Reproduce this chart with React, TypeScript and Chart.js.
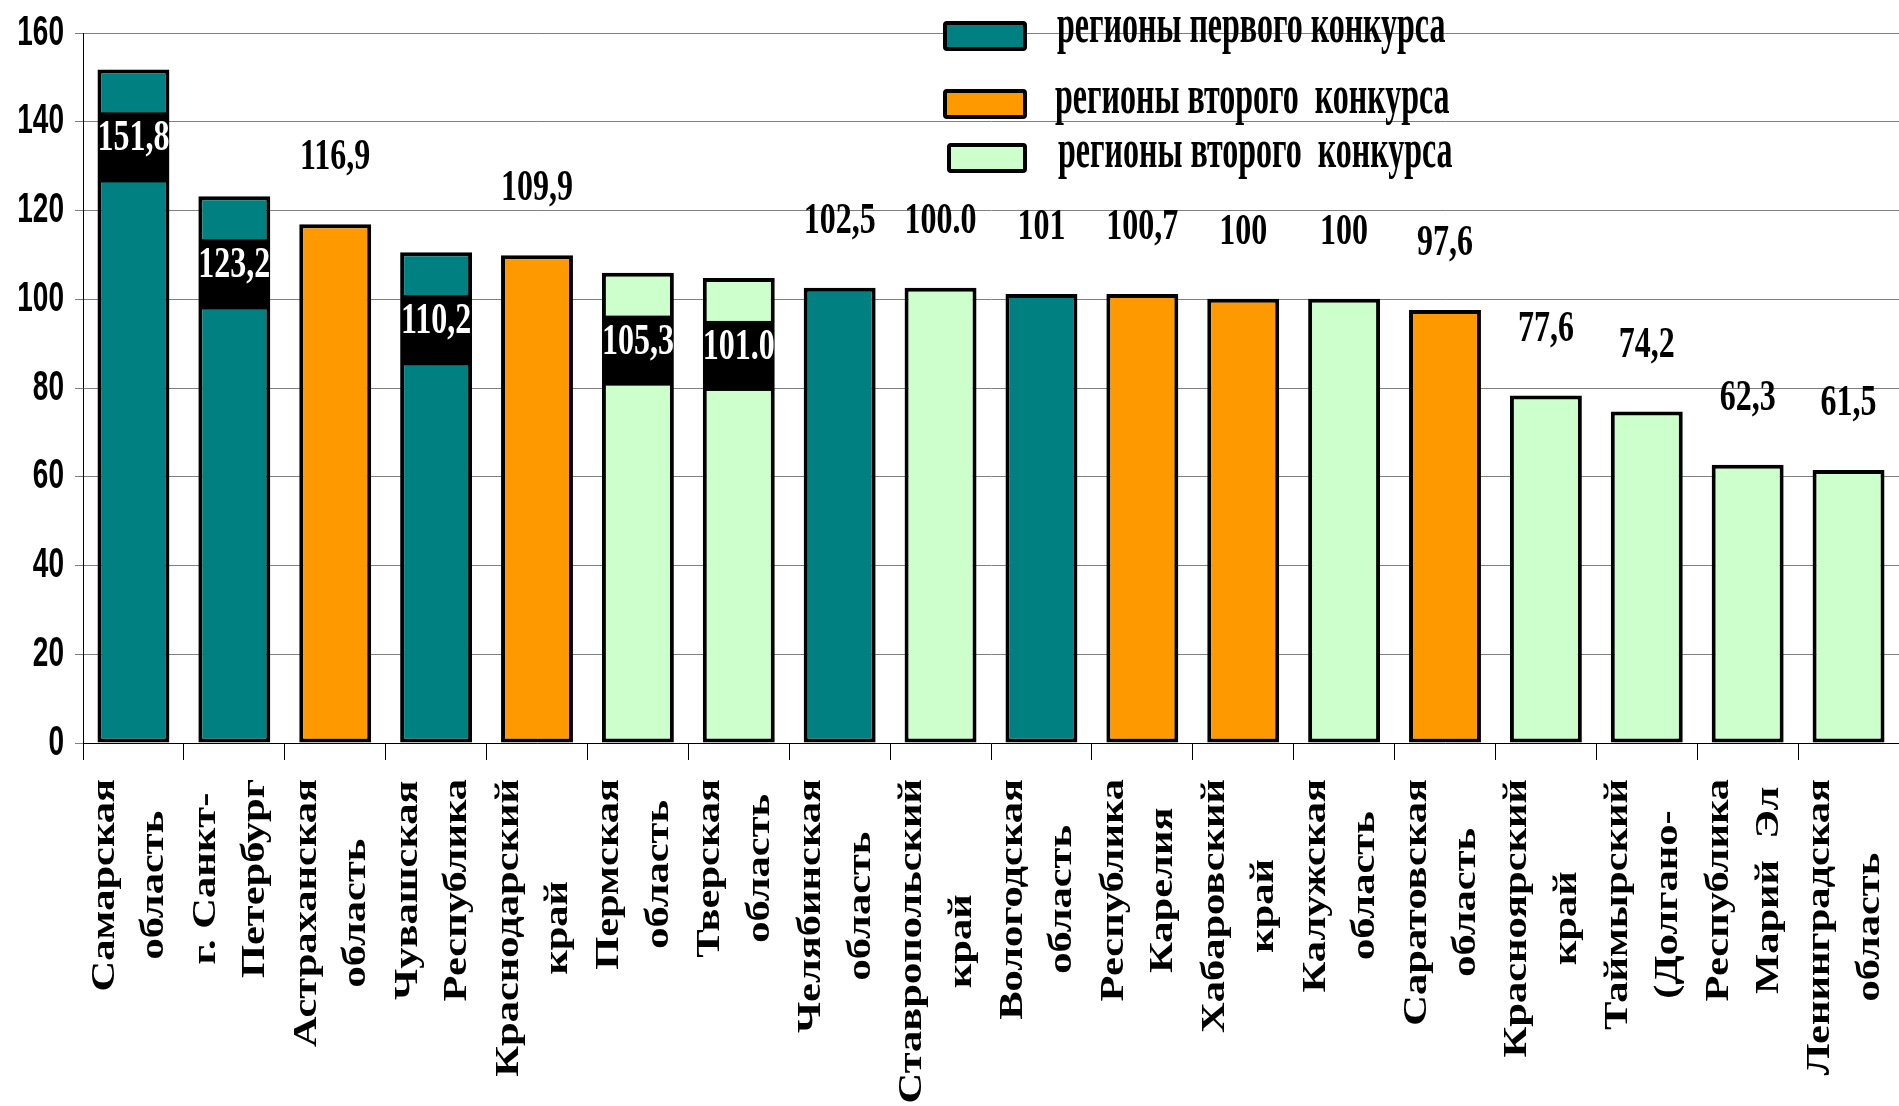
import React, { useEffect, useRef } from "react";
import { Chart, registerables } from "chart.js";

Chart.register(...registerables);

// ---- data ----
const regionLabels: string[][] = [
  ["Самарская", "область"],
  ["г. Санкт-", "Петербург"],
  ["Астраханская", "область"],
  ["Чувашская", "Республика"],
  ["Краснодарский", "край"],
  ["Пермская", "область"],
  ["Тверская", "область"],
  ["Челябинская", "область"],
  ["Ставропольский", "край"],
  ["Вологодская", "область"],
  ["Республика", "Карелия"],
  ["Хабаровский", "край"],
  ["Калужская", "область"],
  ["Саратовская", "область"],
  ["Красноярский", "край"],
  ["Таймырский", "(Долгано-"],
  ["Республика", "Марий  Эл"],
  ["Ленинградская", "область"],
];

const values: number[] = [
  151.8, 123.2, 116.9, 110.6, 109.9, 106.0, 104.8, 102.6, 102.6, 101.2, 101.2,
  100.1, 100.1, 97.6, 78.3, 74.7, 62.7, 61.5,
];

const valueLabels: string[] = [
  "151,8", "123,2", "116,9", "110,2", "109,9", "105,3", "101.0", "102,5", "100.0",
  "101", "100,7", "100", "100", "97,6", "77,6", "74,2", "62,3", "61,5",
];

const boxedLabel: boolean[] = [
  true, true, false, true, false, true, true, false, false, false, false, false,
  false, false, false, false, false, false,
];

const groupOfRegion: number[] = [0, 0, 1, 0, 1, 2, 2, 0, 2, 0, 1, 1, 2, 1, 2, 2, 2, 2];
const groupColors: string[] = ["#008080", "#FF9900", "#CCFFCC"];
const legendNames: string[] = [
  "регионы первого конкурса",
  "регионы второго  конкурса",
  "регионы второго  конкурса",
];
const yTickValues: number[] = [0, 20, 40, 60, 80, 100, 120, 140, 160];

// ---- drawing helpers ----
const SERIF = '"Liberation Serif", "Times New Roman", serif';
const SANS = '"Liberation Sans", Arial, sans-serif';

type TextOpts = {
  font: string;
  sx: number;
  sy: number;
  align: CanvasTextAlign;
  baseline: CanvasTextBaseline;
  color: string;
  angle?: number;
};

function drawText(ctx: CanvasRenderingContext2D, text: string, x: number, y: number, o: TextOpts) {
  ctx.save();
  ctx.translate(x, y);
  if (o.angle) ctx.rotate(o.angle);
  ctx.scale(o.sx, o.sy);
  ctx.font = o.font;
  ctx.textAlign = o.align;
  ctx.textBaseline = o.baseline;
  ctx.fillStyle = o.color;
  ctx.fillText(text, 0, 0);
  ctx.restore();
}

const legendBoxes = [
  { x: 943, y: 21, w: 84, h: 30, tx: 1057, ty: 42 },
  { x: 943, y: 89, w: 84, h: 30, tx: 1055, ty: 113 },
  { x: 947, y: 143, w: 80, h: 30, tx: 1058, ty: 167 },
];

const valueFont = `bold 32px ${SERIF}`;

const overlayPlugin = {
  id: "overlay",
  afterDatasetsDraw(chart: any) {
    const ctx: CanvasRenderingContext2D = chart.ctx;
    const xs = chart.scales.x;
    const ys = chart.scales.y;
    const meta = chart.getDatasetMeta(0);

    // y tick labels
    for (const v of yTickValues) {
      drawText(ctx, String(v), 64, ys.getPixelForValue(v), {
        font: `bold 28px ${SANS}`,
        sx: 1,
        sy: 1.5,
        align: "right",
        baseline: "middle",
        color: "#000",
      });
    }

    // value labels
    meta.data.forEach((bar: any, i: number) => {
      const { x, y } = bar.getProps(["x", "y"], true);
      if (boxedLabel[i]) {
        const top = y + 43;
        const w = 70;
        ctx.fillStyle = "#000";
        ctx.fillRect(x - w / 2, top, w, 70);
        drawText(ctx, valueLabels[i], x, top + 38, {
          font: valueFont,
          sx: 1,
          sy: 1.4,
          align: "center",
          baseline: "alphabetic",
          color: "#fff",
        });
      } else {
        drawText(ctx, valueLabels[i], x, y - 55, {
          font: valueFont,
          sx: 1,
          sy: 1.4,
          align: "center",
          baseline: "alphabetic",
          color: "#000",
        });
      }
    });

    // x category labels (rotated, two lines)
    const labFont = `bold 34px ${SERIF}`;
    const stretch = 1.25;
    const top0 = 779;
    ctx.save();
    ctx.font = labFont;
    regionLabels.forEach((lines, i) => {
      const c = xs.getPixelForValue(i);
      const lens = lines.map((l) => ctx.measureText(l).width * stretch);
      const maxLen = Math.max(...lens);
      const yc = top0 + maxLen / 2;
      const offs = [-19.5, 30];
      lines.forEach((l, k) => {
        drawText(ctx, l, c + offs[k], yc, {
          font: labFont,
          sx: stretch,
          sy: 1,
          align: "center",
          baseline: "alphabetic",
          color: "#000",
          angle: -Math.PI / 2,
        });
      });
    });
    ctx.restore();

    // legend
    legendBoxes.forEach((b, k) => {
      ctx.save();
      ctx.fillStyle = groupColors[k];
      ctx.strokeStyle = "#000";
      ctx.lineWidth = 4;
      ctx.beginPath();
      (ctx as any).roundRect(b.x + 2, b.y + 2, b.w - 4, b.h - 4, 2);
      ctx.fill();
      ctx.stroke();
      ctx.restore();
      drawText(ctx, legendNames[k], b.tx, b.ty, {
        font: `bold 32px ${SERIF}`,
        sx: 1,
        sy: 1.7,
        align: "left",
        baseline: "alphabetic",
        color: "#000",
      });
    });
  },
};

export default function App() {
  const canvasRef = useRef<HTMLCanvasElement | null>(null);

  useEffect(() => {
    document.body.style.margin = "0";
    document.body.style.overflow = "hidden";
    const canvas = canvasRef.current;
    if (!canvas) return;
    const chart = new Chart(canvas, {
      type: "bar",
      data: {
        labels: regionLabels,
        datasets: [
          {
            data: values,
            backgroundColor: groupOfRegion.map((g) => groupColors[g]),
            borderColor: "#000",
            borderWidth: 4,
            borderSkipped: false,
            barPercentage: 0.713,
            categoryPercentage: 1,
          },
        ],
      },
      options: {
        animation: false,
        responsive: true,
        maintainAspectRatio: false,
        layout: { padding: { top: 33, left: 0, right: 0, bottom: 0 } },
        plugins: {
          legend: { display: false },
          tooltip: { enabled: false },
        },
        scales: {
          x: {
            offset: true,
            ticks: { display: false },
            grid: {
              display: true,
              offset: true,
              drawOnChartArea: false,
              drawTicks: true,
              tickLength: 17,
              color: "#000",
              lineWidth: 1,
            },
            border: { display: true, color: "#000", width: 1 },
            afterFit: (scale: any) => {
              scale.height = 363;
            },
          },
          y: {
            min: 0,
            max: 160,
            ticks: { display: false, stepSize: 20 },
            grid: {
              display: true,
              color: "#808080",
              lineWidth: 1,
              drawTicks: true,
              tickLength: 8,
            },
            border: { display: true, color: "#000", width: 1 },
            afterFit: (scale: any) => {
              scale.width = 83;
            },
          },
        },
      },
      plugins: [overlayPlugin],
    });
    return () => chart.destroy();
  }, []);

  return (
    <div style={{ width: 1899, height: 1106, position: "relative" }}>
      <canvas ref={canvasRef} />
    </div>
  );
}
